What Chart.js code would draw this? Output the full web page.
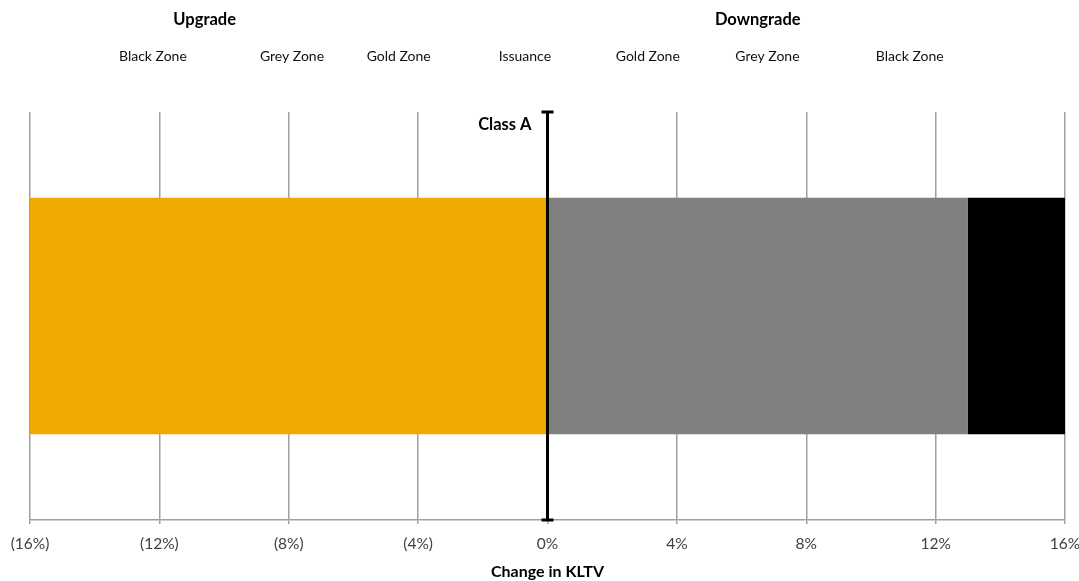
<!DOCTYPE html>
<html>
<head>
<meta charset="utf-8">
<script src="https://cdn.jsdelivr.net/npm/chart.js@4/dist/chart.umd.min.js"></script>
<style>
  html, body { margin: 0; padding: 0; background: #fff; }
  #wrap { width: 1079px; height: 581px; }
</style>
</head>
<body>
<div id="wrap"><canvas id="chart"></canvas></div>
<script>
// 数据
const categories = ['Class A'];
const goldValues = [-16];
const greyValues = [13];
const blackValues = [3];
const xTicks = [-16, -12, -8, -4, 0, 4, 8, 12, 16];

// 顶部标签（按横轴数值定位）
const headerLabels = ['Upgrade', 'Downgrade'];
const headerAt = [-10.6, 6.5];
const zoneLabels = ['Black Zone', 'Grey Zone', 'Gold Zone', 'Issuance', 'Gold Zone', 'Grey Zone', 'Black Zone'];
const zoneAt = [-12.2, -7.9, -4.6, -0.7, 3.1, 6.8, 11.2];
const issuanceAt = 0;

const FONT = 'Lato, "Open Sans", sans-serif';

// 零线 + 端帽, 以及顶部文字
const overlay = {
  id: 'overlay',
  afterDatasetsDraw(chart) {
    const { ctx, chartArea, scales } = chart;
    const x = Math.round(scales.x.getPixelForValue(issuanceAt)) - 0.5;
    const top = chartArea.top, bottom = chartArea.bottom;
    ctx.save();
    ctx.strokeStyle = '#000';
    ctx.lineWidth = 3;
    ctx.beginPath();
    ctx.moveTo(x, top);
    ctx.lineTo(x, bottom);
    ctx.moveTo(x - 6, top);
    ctx.lineTo(x + 6, top);
    ctx.moveTo(x - 6, bottom);
    ctx.lineTo(x + 6, bottom);
    ctx.stroke();

    ctx.fillStyle = '#000';
    ctx.textBaseline = 'middle';
    ctx.textAlign = 'right';
    ctx.font = 'bold 16.5px ' + FONT;
    ctx.fillText(categories[0], x - 16, top + 13);

    ctx.textAlign = 'center';
    headerLabels.forEach((t, i) => {
      ctx.fillText(t, scales.x.getPixelForValue(headerAt[i]), 20);
    });
    ctx.font = '14px ' + FONT;
    ctx.fillStyle = '#111';
    zoneLabels.forEach((t, i) => {
      ctx.fillText(t, scales.x.getPixelForValue(zoneAt[i]), 56);
    });
    ctx.restore();
  }
};

new Chart(document.getElementById('chart'), {
  type: 'bar',
  data: {
    labels: categories,
    datasets: [
      { label: 'Gold', data: goldValues, backgroundColor: '#EFA900' },
      { label: 'Grey', data: greyValues, backgroundColor: '#808080' },
      { label: 'Black', data: blackValues, backgroundColor: '#000000' }
    ]
  },
  options: {
    indexAxis: 'y',
    responsive: true,
    maintainAspectRatio: false,
    animation: false,
    categoryPercentage: 0.58,
    barPercentage: 1,
    layout: { padding: { top: 112, left: 30, right: 14, bottom: 0 } },
    plugins: {
      legend: { display: false },
      tooltip: { enabled: false }
    },
    scales: {
      x: {
        type: 'linear',
        stacked: true,
        min: -16,
        max: 16,
        afterBuildTicks(scale) {
          scale.ticks = xTicks.map(v => ({ value: v }));
        },
        afterFit(scale) {
          // 标签溢出不挤压绘图区, 固定轴高
          scale.paddingLeft = 0;
          scale.paddingRight = 0;
          scale.height = 61;
        },
        ticks: {
          color: '#404040',
          font: { family: FONT, size: 15.5 },
          padding: 11,
          callback: v => v < 0 ? '(' + Math.abs(v) + '%)' : v + '%'
        },
        grid: {
          color: '#a0a0a0',
          lineWidth: 1.5,
          tickLength: 4,
          drawTicks: true
        },
        border: { display: true, color: '#a0a0a0', width: 1.5 },
        title: {
          display: true,
          text: 'Change in KLTV',
          color: '#000',
          font: { family: FONT, size: 16, weight: 'bold' },
          padding: { top: 0, bottom: 0 }
        }
      },
      y: {
        stacked: true,
        display: false
      }
    }
  },
  plugins: [overlay]
});
</script>
</body>
</html>
